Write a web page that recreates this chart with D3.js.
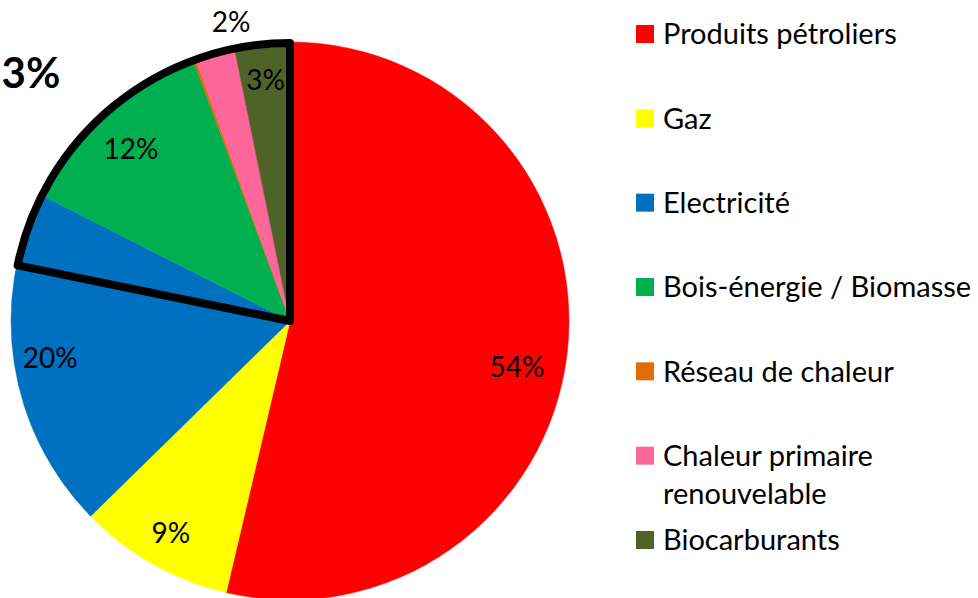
<!DOCTYPE html>
<html>
<head>
<meta charset="utf-8">
<script src="https://cdn.jsdelivr.net/npm/d3@7"></script>
<style>
  html, body { margin: 0; padding: 0; background: #fff; }
  svg { display: block; }
  text { font-family: Lato, "Open Sans", sans-serif; fill: #000; }
</style>
</head>
<body>
<svg id="chart" width="978" height="598"></svg>
<script>
// ---- Data ----
const categories = [
  "Produits pétroliers",
  "Gaz",
  "Electricité",
  "Bois-énergie / Biomasse",
  "Réseau de chaleur",
  "Chaleur primaire renouvelable",
  "Biocarburants"
];
const values = [53.7, 9.0, 19.8, 11.9, 0.15, 2.3, 3.2];
const valueLabels = ["54%", "9%", "20%", "12%", "", "2%", "3%"];
const colors = ["#FF0000", "#FFFF00", "#0070C0", "#00B050", "#E36C09", "#FF6699", "#4F6228"];
const highlightShare = [21.8];      // outlined share (%) ending at 12 o'clock
const highlightLabels = ["3%"];

// ---- Layout ----
const svg = d3.select("#chart");
const cx = 290, cy = 321, r = 279;
const g = svg.append("g").attr("transform", `translate(${cx},${cy})`);

const pie = d3.pie().sort(null).value(d => d.value);
const arcs = pie(categories.map((c, i) => ({ cat: c, value: values[i], label: valueLabels[i], color: colors[i] })));
const arc = d3.arc().innerRadius(0).outerRadius(r);

g.selectAll("path.slice")
  .data(arcs)
  .enter().append("path")
  .attr("class", "slice")
  .attr("d", arc)
  .attr("fill", d => d.data.color)
  .attr("stroke", d => d.data.color)
  .attr("stroke-width", 0.5);

// Highlight outline
const hlTotal = d3.sum(values);
const hlArc = d3.arc().innerRadius(0).outerRadius(r - 1)
  .startAngle(2 * Math.PI * (1 - highlightShare[0] / hlTotal))
  .endAngle(2 * Math.PI);
g.append("path")
  .attr("d", hlArc())
  .attr("fill", "none")
  .attr("stroke", "#000")
  .attr("stroke-width", 8)
  .attr("stroke-linejoin", "round");

// Data labels
const labelTweaks = { 0: { da: 4.8, rf: 0.83 }, 3: { da: -1, rf: 0.84 }, 5: { da: 4.5, rf: 1.093 } };
g.selectAll("text.lbl")
  .data(arcs)
  .enter().append("text")
  .attr("class", "lbl")
  .attr("text-anchor", "middle")
  .attr("dy", "0.36em")
  .style("font-size", "28px")
  .attr("transform", (d, i) => {
    const t = labelTweaks[i] || { da: 0, rf: 0.87 };
    const a = (d.startAngle + d.endAngle) / 2 + t.da * Math.PI / 180;
    const rr = r * t.rf;
    return `translate(${rr * Math.sin(a)},${-rr * Math.cos(a)})`;
  })
  .text(d => d.data.label);

// Bold annotation
svg.append("text")
  .attr("x", 31).attr("y", 88)
  .attr("text-anchor", "middle")
  .style("font-size", "42px")
  .style("font-weight", "bold")
  .text(highlightLabels[0]);

// Legend
const ly = d3.scalePoint().domain(categories).range([34, 540]);
const legend = svg.append("g");
const items = legend.selectAll("g.item")
  .data(categories)
  .enter().append("g")
  .attr("class", "item")
  .attr("transform", d => `translate(636,${ly(d)})`);
items.append("rect")
  .attr("x", 0).attr("y", -9)
  .attr("width", 18).attr("height", 18)
  .attr("fill", (d, i) => colors[i]);
items.append("text")
  .attr("x", 27)
  .attr("dy", "0.36em")
  .style("font-size", "29px")
  .each(function (d) {
    const t = d3.select(this);
    if (d === "Chaleur primaire renouvelable") {
      t.append("tspan").attr("x", 27).text("Chaleur primaire");
      t.append("tspan").attr("x", 27).attr("dy", 38).text("renouvelable");
    } else {
      t.text(d);
    }
  });
</script>
</body>
</html>
